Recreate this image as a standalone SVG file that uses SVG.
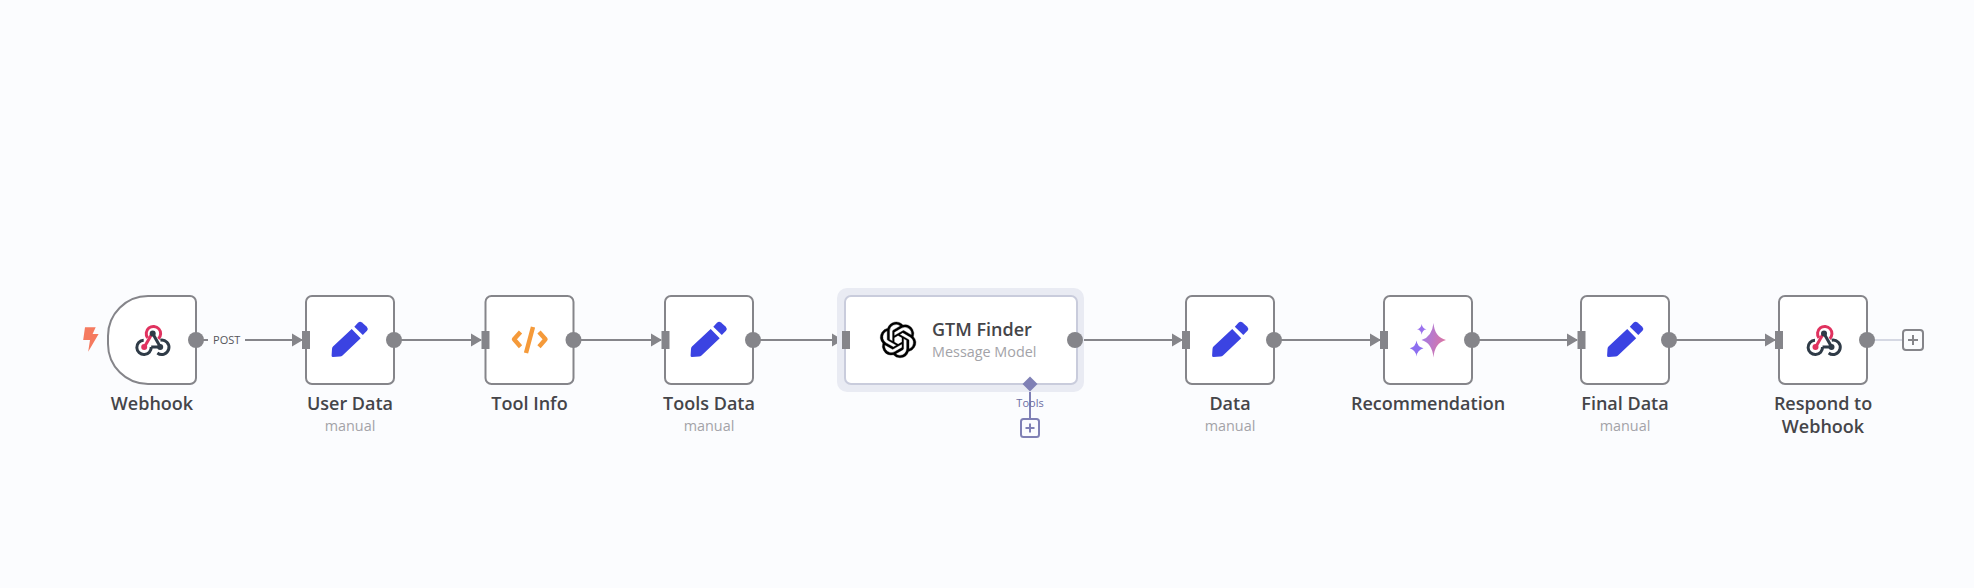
<svg xmlns="http://www.w3.org/2000/svg" width="1974" height="588" viewBox="0 0 1974 588">
<style>
.box{fill:#fff;stroke:#85858a;stroke-width:2}
.out,.in{fill:#85858a}
.ln{fill:none;stroke:#85858a;stroke-width:2}
.t{font-family:"Open Sans",sans-serif;font-weight:600;font-size:18px;fill:#454549;text-anchor:middle}
.s{font-family:"Open Sans",sans-serif;font-size:14.4px;fill:#a3a3a8;text-anchor:middle}
.pen{fill:#3b43e2}
</style>
<defs>
<marker id="arr" markerUnits="userSpaceOnUse" markerWidth="11" markerHeight="14" refX="10" refY="7" orient="auto"><path d="M0 0.5L11 7L0 13.5Z" fill="#85858a"/></marker>
<linearGradient id="sp" x1="0" y1="0" x2="1" y2="0.3"><stop offset="0" stop-color="#9a7cf0"/><stop offset="1" stop-color="#d975a5"/></linearGradient>
<g id="pen"><path class="pen" d="M351.7 329L360.7 338.3L342.5 355.5Q341.5 356.4 340 356.5L333 357Q331.5 357 331.6 355.5L332 349Q332.1 347.5 333 346.6Z"/><path class="pen" d="M354.3 326.7L358 322.8Q360 321 362 322.6L366.8 326.8Q368.6 328.8 367 330.8L362.8 335Z"/></g>
<g id="hook" fill="none" stroke-width="3"><path d="M-7.5 4.5L-1 -7" stroke="#e0325f"/><path d="M-4.6 -4.2A7.2 7.2 0 1 1 6.2 -3.2" stroke="#e0325f"/><path d="M0.5 -8.5L8 4.8" stroke="#2f3b47"/><path d="M-1 5H8" stroke="#2f3b47"/><path d="M-8.5 -1.8A7.2 7.2 0 1 0 -1 5" stroke="#2f3b47"/><path d="M8.2 -1.8A7.2 7.2 0 1 1 5.2 11" stroke="#2f3b47"/><circle cx="0.5" cy="-8.5" r="3" fill="#2f3b47" stroke="none"/><circle cx="-8" cy="5" r="3" fill="#e0325f" stroke="none"/><circle cx="8" cy="5" r="3" fill="#2f3b47" stroke="none"/></g>
</defs>
<rect width="1974" height="588" fill="#fbfcfe"/>

<g id="connectors">
<path class="ln" d="M196 340H208"/>
<path class="ln" d="M245 340H302" marker-end="url(#arr)"/>
<path class="ln" d="M394 340H481" marker-end="url(#arr)"/>
<path class="ln" d="M573.5 340H661" marker-end="url(#arr)"/>
<path class="ln" d="M753 340H842" marker-end="url(#arr)"/>
<path class="ln" d="M1075 340H1182" marker-end="url(#arr)"/>
<path class="ln" d="M1274 340H1380" marker-end="url(#arr)"/>
<path class="ln" d="M1472 340H1577" marker-end="url(#arr)"/>
<path class="ln" d="M1669 340H1775" marker-end="url(#arr)"/>
<path d="M1867 340H1903" fill="none" stroke="#d5d8e3" stroke-width="2"/>
<path d="M1030 384V419" fill="none" stroke="#7f80b5" stroke-width="2"/>
</g>

<g id="webhook">
<path class="box" d="M148 296H190a6 6 0 0 1 6 6V378a6 6 0 0 1 -6 6H148a40 40 0 0 1 -40 -40V336a40 40 0 0 1 40 -40Z"/>
<path d="M85 327.3H95.7L92.6 334H98.6L88.2 351.8L90 340H83.2Z" fill="#f57a5f"/>
<use href="#hook" x="152.2" y="342"/>
<circle class="out" cx="196" cy="340" r="8"/>
<text x="226.7" y="344" font-family="Open Sans,sans-serif" font-size="11" fill="#55555a" text-anchor="middle">POST</text>
<text class="t" x="152" y="410">Webhook</text>
</g>

<g id="user-data">
<rect class="box" x="306" y="296" width="88" height="88" rx="6"/>
<rect class="in" x="302" y="331" width="8" height="18"/>
<use href="#pen"/>
<circle class="out" cx="394" cy="340" r="8"/>
<text class="t" x="350" y="410">User Data</text><text class="s" x="350" y="431">manual</text>
</g>

<g id="tool-info">
<rect class="box" x="485.5" y="296" width="88" height="88" rx="6"/>
<rect class="in" x="481.5" y="331" width="8" height="18"/>
<path d="M520.5 332L514 339.3L520.5 346.7M539 332L545.5 339.3L539 346.7M533 327L526 353" fill="none" stroke="#f59a3a" stroke-width="4.4" stroke-linejoin="round"/>
<circle class="out" cx="573.5" cy="340" r="8"/>
<text class="t" x="529.5" y="410">Tool Info</text>
</g>

<g id="tools-data">
<rect class="box" x="665" y="296" width="88" height="88" rx="6"/>
<rect class="in" x="661.5" y="331" width="8" height="18"/>
<use href="#pen" x="359"/>
<circle class="out" cx="753" cy="340" r="8"/>
<text class="t" x="709" y="410">Tools Data</text><text class="s" x="709" y="431">manual</text>
</g>

<g id="gtm-finder">
<rect x="837" y="288" width="247" height="104" rx="10" fill="#e9ebf3"/>
<rect x="845" y="296" width="232" height="88" rx="6" fill="#fff" stroke="#c9ccdc" stroke-width="2"/>
<rect class="in" x="842" y="331" width="8" height="18"/>
<path transform="translate(880.2 322) scale(1.49)" fill="#000" stroke="#000" stroke-width="0.25" d="M22.2819 9.8211a5.9847 5.9847 0 0 0-.5157-4.9108 6.0462 6.0462 0 0 0-6.5098-2.9A6.0651 6.0651 0 0 0 4.9807 4.1818a5.9847 5.9847 0 0 0-3.9977 2.9 6.0462 6.0462 0 0 0 .7427 7.0966 5.98 5.98 0 0 0 .511 4.9107 6.051 6.051 0 0 0 6.5146 2.9001A5.9847 5.9847 0 0 0 13.2599 24a6.0557 6.0557 0 0 0 5.7718-4.2058 5.9894 5.9894 0 0 0 3.9977-2.9001 6.0557 6.0557 0 0 0-.7475-7.0729zm-9.022 12.6081a4.4755 4.4755 0 0 1-2.8764-1.0408l.1419-.0804 4.7783-2.7582a.7948.7948 0 0 0 .3927-.6813v-6.7369l2.02 1.1686a.071.071 0 0 1 .038.052v5.5826a4.504 4.504 0 0 1-4.4945 4.4944zm-9.6607-4.1254a4.4708 4.4708 0 0 1-.5346-3.0137l.142.0852 4.783 2.7582a.7712.7712 0 0 0 .7806 0l5.8428-3.3685v2.3324a.0804.0804 0 0 1-.0332.0615L9.74 19.9502a4.4992 4.4992 0 0 1-6.1408-1.6464zM2.3408 7.8956a4.485 4.485 0 0 1 2.3655-1.9728V11.6a.7664.7664 0 0 0 .3879.6765l5.8144 3.3543-2.0201 1.1685a.0757.0757 0 0 1-.071 0l-4.8303-2.7865A4.504 4.504 0 0 1 2.3408 7.872zm16.5963 3.8558L13.1038 8.364 15.1192 7.2a.0757.0757 0 0 1 .071 0l4.8303 2.7913a4.4944 4.4944 0 0 1-.6765 8.1042v-5.6772a.79.79 0 0 0-.407-.667zm2.0107-3.0231l-.142-.0852-4.7735-2.7818a.7759.7759 0 0 0-.7854 0L9.409 9.2297V6.8974a.0662.0662 0 0 1 .0284-.0615l4.8303-2.7866a4.4992 4.4992 0 0 1 6.6802 4.66zM8.3065 12.863l-2.02-1.1638a.0804.0804 0 0 1-.038-.0567V6.0742a4.4992 4.4992 0 0 1 7.3757-3.4537l-.142.0805L8.704 5.459a.7948.7948 0 0 0-.3927.6813zm1.0976-2.3654l2.602-1.4998 2.6069 1.4998v2.9994l-2.5974 1.4997-2.6067-1.4997Z"/>
<circle class="out" cx="1075" cy="340" r="8"/>
<text class="t" x="932" y="336" style="text-anchor:start">GTM Finder</text>
<text class="s" x="932" y="357" style="text-anchor:start">Message Model</text>
<path d="M1030 376.5L1037.5 384L1030 391.5L1022.5 384Z" fill="#7f80b5"/>
<text x="1030" y="407" font-family="Open Sans,sans-serif" font-size="11" fill="#6d6ea3" text-anchor="middle">Tools</text>
<rect x="1021" y="419" width="18" height="18" rx="2.5" fill="#fbfcfe" stroke="#7f80b5" stroke-width="2"/>
<path d="M1030 423.5V432.5M1025.5 428H1034.5" stroke="#7f80b5" stroke-width="2" fill="none"/>
</g>

<g id="data">
<rect class="box" x="1186" y="296" width="88" height="88" rx="6"/>
<rect class="in" x="1182" y="331" width="8" height="18"/>
<use href="#pen" x="880.5"/>
<circle class="out" cx="1274" cy="340" r="8"/>
<text class="t" x="1230" y="410">Data</text><text class="s" x="1230" y="431">manual</text>
</g>

<g id="recommendation">
<rect class="box" x="1384" y="296" width="88" height="88" rx="6"/>
<rect class="in" x="1380" y="331" width="8" height="18"/>
<path d="M1433.5 323Q1434.5 337 1446 340Q1434.5 343 1433.5 357.5Q1432 343 1421.5 340Q1432 337 1433.5 323Z" fill="url(#sp)"/>
<path d="M1416.5 340.5Q1417.3 347 1423.5 348.3Q1417.3 350 1416.5 356.5Q1415.6 350 1409.8 348.3Q1415.6 347 1416.5 340.5Z" fill="#8d6ff0"/>
<path d="M1421.7 324Q1422.3 328.5 1426.5 329.3Q1422.3 330 1421.7 334.8Q1421 330 1417 329.3Q1421 328.5 1421.7 324Z" fill="#9b72ee"/>
<circle class="out" cx="1472" cy="340" r="8"/>
<text class="t" x="1428" y="410">Recommendation</text>
</g>

<g id="final-data">
<rect class="box" x="1581" y="296" width="88" height="88" rx="6"/>
<rect class="in" x="1577.5" y="331" width="8" height="18"/>
<use href="#pen" x="1275.5"/>
<circle class="out" cx="1669" cy="340" r="8"/>
<text class="t" x="1625" y="410">Final Data</text><text class="s" x="1625" y="431">manual</text>
</g>

<g id="respond">
<rect class="box" x="1779" y="296" width="88" height="88" rx="6"/>
<rect class="in" x="1775" y="331" width="8" height="18"/>
<use href="#hook" x="1823.5" y="342"/>
<circle class="out" cx="1867" cy="340" r="8"/>
<text class="t" x="1823" y="410">Respond to</text><text class="t" x="1823" y="433">Webhook</text>
<rect x="1903" y="330" width="20" height="20" rx="3" fill="#fbfcfe" stroke="#85858a" stroke-width="2"/>
<path d="M1913 335V345M1908 340H1918" stroke="#85858a" stroke-width="2" fill="none"/>
</g>
</svg>
